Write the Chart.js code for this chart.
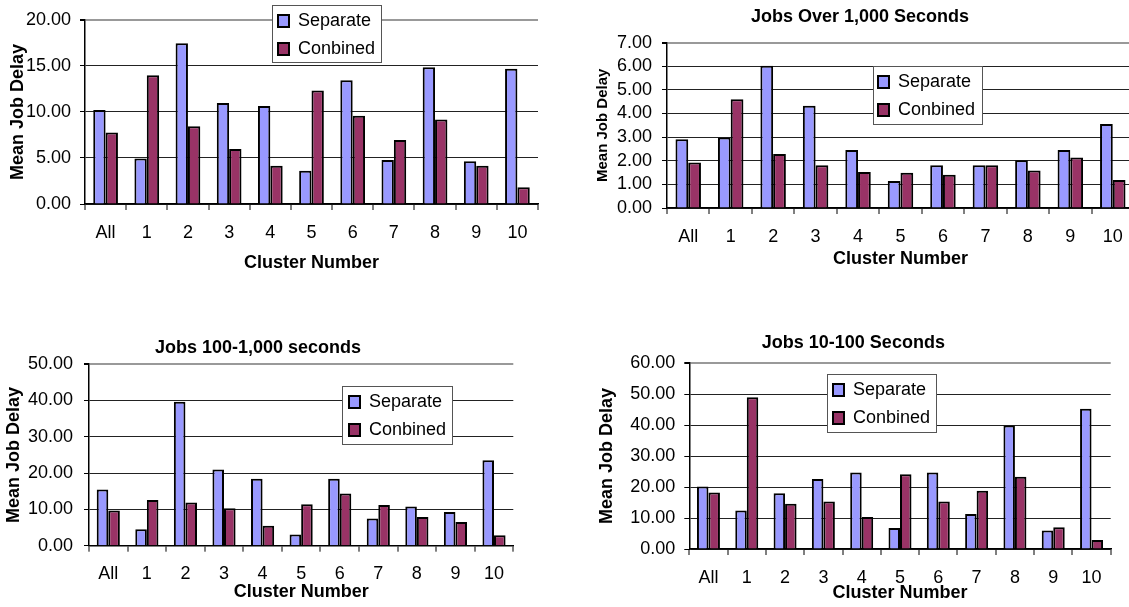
<!DOCTYPE html>
<html>
<head>
<meta charset="utf-8">
<script src="https://cdn.jsdelivr.net/npm/chart.js@4"></script>
<style>
    html, body { margin: 0; padding: 0; background: #fff; overflow: hidden; width: 1129px; height: 607px; position: relative; }
    canvas { position: absolute; }
</style>
</head>
<body>
<canvas id="chart-all" width="560" height="285" style="left:0;top:0;width:560px;height:285px"></canvas>
<canvas id="chart-over-1000" width="590" height="285" style="left:560px;top:0;width:590px;height:285px"></canvas>
<canvas id="chart-100-1000" width="560" height="307" style="left:0;top:300px;width:560px;height:307px"></canvas>
<canvas id="chart-10-100" width="569" height="307" style="left:560px;top:300px;width:569px;height:307px"></canvas>
<script>
const clusters = ['All', '1', '2', '3', '4', '5', '6', '7', '8', '9', '10'];

const separateAll = [10.2, 4.94, 17.46, 10.96, 10.64, 3.62, 13.43, 4.77, 14.85, 4.63, 14.68];
const combinedAll = [7.76, 13.98, 8.45, 5.98, 4.14, 12.31, 9.57, 6.96, 9.18, 4.14, 1.81];

const separateOver1000 = [2.91, 2.98, 6.02, 4.33, 2.45, 1.14, 1.81, 1.81, 2.02, 2.45, 3.56];
const combinedOver1000 = [1.93, 4.6, 2.29, 1.81, 1.52, 1.49, 1.41, 1.81, 1.59, 2.14, 1.19];

const separate100to1000 = [15.5, 4.5, 39.6, 21.0, 18.4, 3.1, 18.4, 7.5, 10.8, 9.3, 23.5];
const combined100to1000 = [9.7, 12.6, 11.9, 10.3, 5.5, 11.4, 14.4, 11.2, 7.9, 6.5, 2.9];

const separate10to100 = [20.2, 12.4, 18.0, 22.6, 24.7, 6.8, 24.7, 11.3, 39.9, 6.0, 45.3];
const combined10to100 = [18.2, 49.0, 14.6, 15.3, 10.3, 24.1, 15.3, 18.8, 23.3, 7.0, 2.9];

const ticksAll = ['0.00', '5.00', '10.00', '15.00', '20.00'];
const ticksOver1000 = ['0.00', '1.00', '2.00', '3.00', '4.00', '5.00', '6.00', '7.00'];
const ticks100to1000 = ['0.00', '10.00', '20.00', '30.00', '40.00', '50.00'];
const ticks10to100 = ['0.00', '10.00', '20.00', '30.00', '40.00', '50.00', '60.00'];

const seriesLabels = ['Separate', 'Conbined'];

Chart.defaults.font.family = "'Liberation Sans', Arial, sans-serif";
Chart.defaults.color = '#000';
Chart.defaults.animation = false;

const SEPARATE_COLOR = '#9999ff';
const COMBINED_COLOR = '#993366';

// legend sits inside the plot with a white framed box behind it
const legendBox = {
    id: 'legendBox',
    afterInit(chart) {
        const legend = chart.legend;
        const drawLegend = legend.draw.bind(legend);
        legend.draw = (area) => {
            const box = chart.options.plugins.legendBox;
            const ctx = chart.ctx;
            ctx.save();
            ctx.fillStyle = '#fff';
            ctx.fillRect(box.x, box.y, box.w, box.h);
            ctx.strokeStyle = '#555';
            ctx.lineWidth = 1;
            ctx.strokeRect(box.x + 0.5, box.y + 0.5, box.w, box.h);
            ctx.restore();
            drawLegend(area);
        };
    },
    afterUpdate(chart, args, opts) {
        const legend = chart.legend;
        legend.left = opts.itemX - 10;
        legend.right = legend.left + legend.width;
        legend.top = opts.itemY - 19;
        legend.bottom = legend.top + 500;
    },
};

function makeChart(canvasId, separate, combined, yLabels, cfg) {
    const yMax = Number(yLabels[yLabels.length - 1]);
    const yStep = Number(yLabels[1]);

    return new Chart(document.getElementById(canvasId), {
        type: 'bar',
        data: {
            labels: clusters,
            datasets: [
                {
                    label: seriesLabels[0],
                    data: separate,
                    backgroundColor: SEPARATE_COLOR,
                    borderColor: '#000',
                    borderWidth: 2,
                },
                {
                    label: seriesLabels[1],
                    data: combined,
                    backgroundColor: COMBINED_COLOR,
                    borderColor: '#000',
                    borderWidth: 2,
                },
            ],
        },
        options: {
            responsive: false,
            maintainAspectRatio: false,
            devicePixelRatio: 1,
            categoryPercentage: 0.6,
            barPercentage: 1.0,
            layout: { padding: cfg.padding },
            plugins: {
                tooltip: { enabled: false },
                title: {
                    display: !!cfg.title,
                    text: cfg.title,
                    font: { size: 18, weight: 'bold' },
                    padding: cfg.titlePadding,
                },
                legend: {
                    position: 'chartArea',
                    align: 'start',
                    labels: {
                        boxWidth: 11,
                        boxHeight: 12,
                        padding: 10,
                        font: { size: 18 },
                        color: '#000',
                    },
                },
                legendBox: cfg.legend,
            },
            scales: {
                x: {
                    afterFit: (scale) => { scale.height = cfg.xHeight; },
                    grid: {
                        color: (c) => (c.index === clusters.length ? '#999' : 'rgba(0,0,0,0)'),
                        lineWidth: 2,
                        tickColor: '#000',
                        tickWidth: 1,
                        tickLength: 6,
                    },
                    border: { color: '#000', width: 1.5 },
                    ticks: {
                        font: { size: 18 },
                        padding: cfg.xTickPadding,
                        maxRotation: 0,
                        autoSkip: false,
                    },
                    title: {
                        display: true,
                        text: 'Cluster Number',
                        font: { size: 18, weight: 'bold' },
                        padding: { top: 0, bottom: cfg.xTitlePad },
                    },
                },
                y: {
                    min: 0,
                    max: yMax,
                    afterFit: (scale) => { scale.width = cfg.yWidth; },
                    grid: {
                        color: (c) => (c.tick && c.tick.value === yMax ? '#999' : '#222'),
                        lineWidth: (c) => (c.tick && c.tick.value === yMax ? 2 : 1),
                        tickColor: '#000',
                        tickLength: 5,
                    },
                    border: { color: '#000', width: 1.5 },
                    ticks: {
                        stepSize: yStep,
                        autoSkip: false,
                        font: { size: 18 },
                        padding: cfg.yTickPadding,
                        callback: (value, index) => yLabels[index],
                    },
                    title: {
                        display: true,
                        text: 'Mean Job Delay',
                        font: { size: cfg.yTitleSize, weight: 'bold' },
                        padding: { top: cfg.yTitlePad, bottom: 0 },
                    },
                },
            },
        },
        plugins: [legendBox],
    });
}

makeChart('chart-all', separateAll, combinedAll, ticksAll, {
    padding: { top: 13, right: 22, left: 0, bottom: 0 },
    xHeight: 81,
    xTickPadding: 12,
    xTitlePad: 11,
    yWidth: 85,
    yTickPadding: 9,
    yTitleSize: 18,
    yTitlePad: 7,
    legend: { x: 272, y: 5, w: 109, h: 57, itemX: 278, itemY: 21 },
});

// left padding nudges the centred chart title over to where it sits in the original
makeChart('chart-over-1000', separateOver1000, combinedOver1000, ticksOver1000, {
    title: 'Jobs Over 1,000 Seconds',
    titlePadding: { top: 6, bottom: 15 },
    padding: { top: 0, right: 16, left: 26, bottom: 0 },
    xHeight: 77,
    xTickPadding: 12,
    xTitlePad: 15,
    yWidth: 81,
    yTickPadding: 10,
    yTitleSize: 15,
    yTitlePad: 7.6,
    legend: { x: 313, y: 66, w: 109, h: 58, itemX: 318, itemY: 82 },
});

makeChart('chart-100-1000', separate100to1000, combined100to1000, ticks100to1000, {
    title: 'Jobs 100-1,000 seconds',
    titlePadding: { top: 37, bottom: 5.5 },
    padding: { top: 0, right: 46.7, left: 2.8, bottom: 0 },
    xHeight: 61.3,
    xTickPadding: 12,
    xTitlePad: 4,
    yWidth: 86.2,
    yTickPadding: 11,
    yTitleSize: 18,
    yTitlePad: 0,
    legend: { x: 342, y: 86, w: 110, h: 58, itemX: 349, itemY: 102 },
});

makeChart('chart-10-100', separate10to100, combined10to100, ticks10to100, {
    title: 'Jobs 10-100 Seconds',
    titlePadding: { top: 32, bottom: 9.5 },
    padding: { top: 0, right: 18.3, left: 36, bottom: 0 },
    xHeight: 58,
    xTickPadding: 12,
    xTitlePad: 3,
    yWidth: 93.3,
    yTickPadding: 9,
    yTitleSize: 18,
    yTitlePad: 0.2,
    legend: { x: 267, y: 74, w: 109, h: 58, itemX: 273, itemY: 90 },
});
</script>
</body>
</html>
